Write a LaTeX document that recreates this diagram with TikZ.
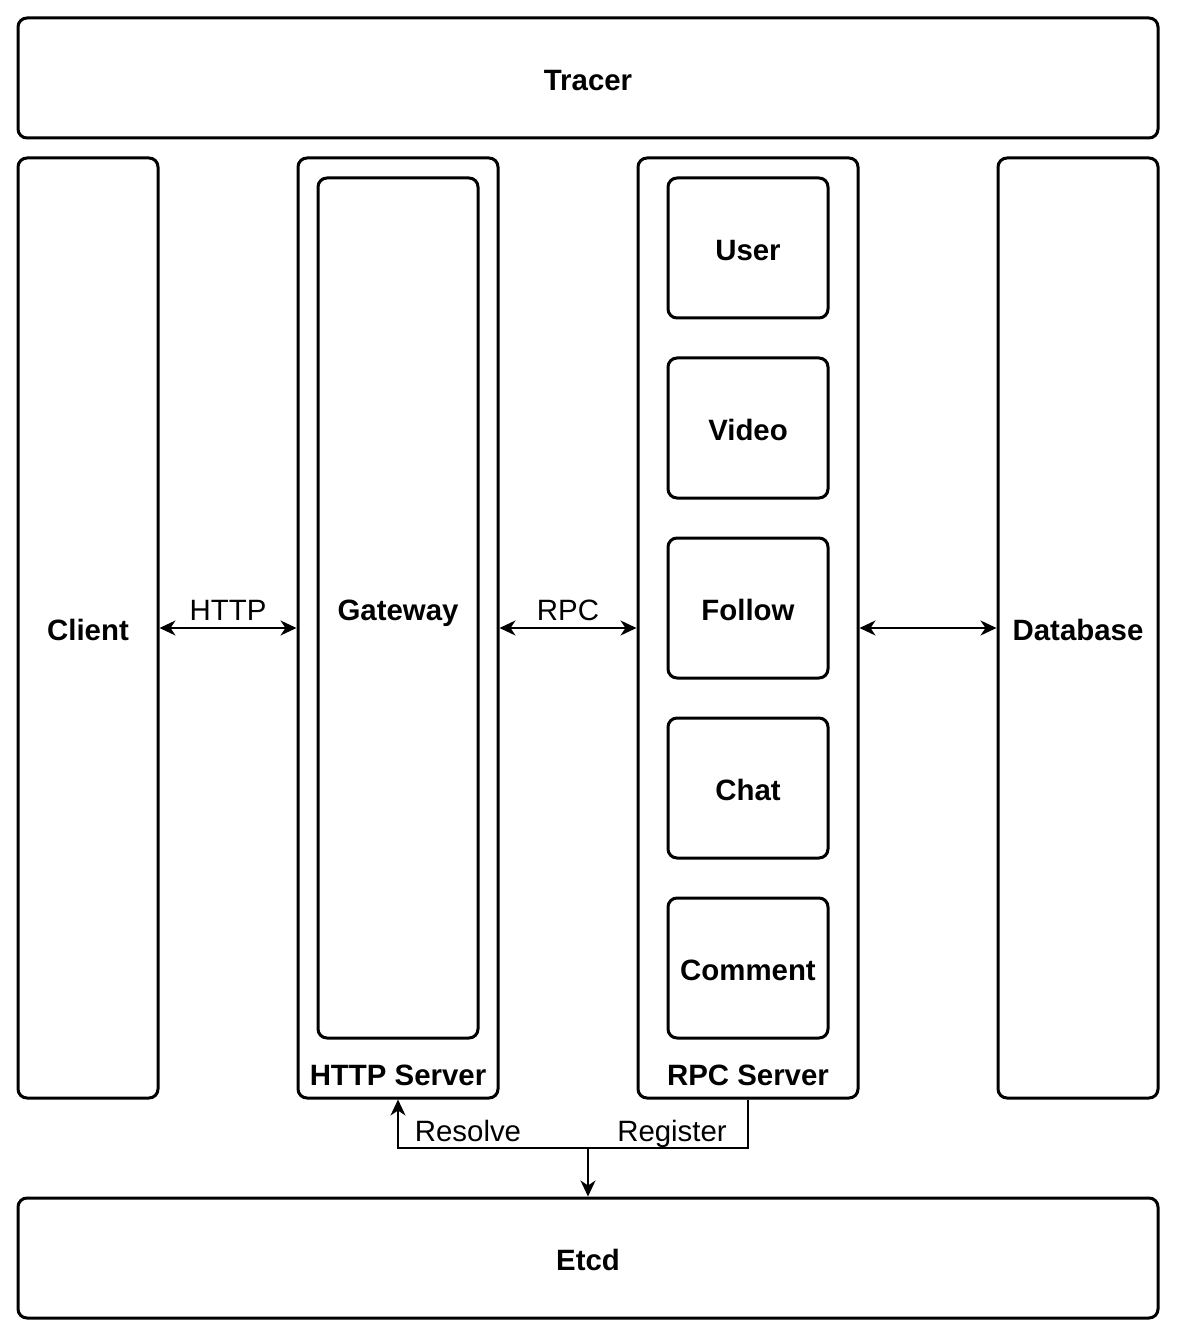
\documentclass[tikz,border=0pt]{standalone}
\usepackage{fontspec}
\setmainfont{Liberation Sans}
\usetikzlibrary{arrows.meta}

\begin{document}
\begin{tikzpicture}[x=0.5pt, y=-0.5pt, every node/.style = {font=\fontsize{14.7}{17}\selectfont},
					box/.style = {draw, line width=1.5pt, rounded corners=4.5pt, inner sep=0pt,
						text height=12.5pt, text depth=0pt, font=\fontsize{14.7}{17}\selectfont\bfseries},
					arrowboth/.style = {line width=0.75pt, {Stealth[length=8pt, width=7.5pt, inset=2.5pt]}-{Stealth[length=8pt, width=7.5pt, inset=2.5pt]}},
					arrowone/.style = {line width=0.75pt, -{Stealth[length=8pt, width=7.5pt, inset=2.5pt]}}]

\useasboundingbox (0,0) rectangle (1176,1336);

\tikzstyle{wide}=[box, minimum width=570pt, minimum height=60pt]
\tikzstyle{column}=[box, minimum width=70pt, minimum height=470pt]
\tikzstyle{service}=[box, minimum width=80pt, minimum height=70pt]
\tikzstyle{caption}=[font=\fontsize{14.7}{17}\selectfont\bfseries]

\node[wide] (tracer) at (588,78) {Tracer};
\node[wide] (etcd) at (588,1258) {Etcd};

\node[column] (client) at (88,628) {Client};
\node[column, minimum width=80pt] (database) at (1078,628) {Database};

\node[box, minimum width=100pt, minimum height=470pt] (http) at (398,628) {};
\node[box, minimum width=80pt, minimum height=430pt] (gateway) at (398,608) {Gateway};
\node[caption] (httplabel) at (398,1075) {HTTP Server};

\node[box, minimum width=110pt, minimum height=470pt] (rpc) at (748,628) {};
\foreach \svc [count=\i] in {User, Video, Follow, Chat, Comment}
	\node[service] (svc\i) at (748,68+180*\i) {\svc};
\node[caption] (rpclabel) at (748,1075) {RPC Server};

\draw[arrowboth] (client) -- node[above] {HTTP} (http);
\draw[arrowboth] (http) -- node[above] {RPC} (rpc);
\draw[arrowboth] (rpc) -- (database);

\coordinate (bus) at (588,1148);
\draw[arrowone] (rpc.south) |- (bus) -| (http.south);
\draw[arrowone] (bus) -- (etcd.north);
\node[anchor=base] (resolve) at (468,1141) {Resolve};
\node[anchor=base] (register) at (672,1141) {Register};
\end{tikzpicture}
\end{document}
